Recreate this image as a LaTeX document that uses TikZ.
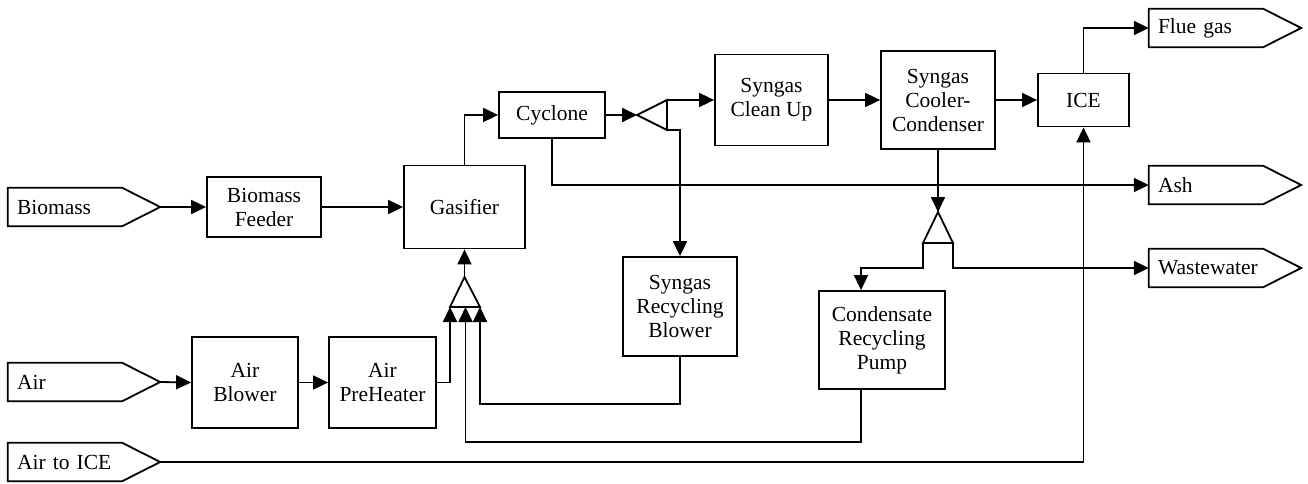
\documentclass[tikz,border=0pt]{standalone}
\usepackage{fontspec}
\setmainfont{Liberation Serif}
\usetikzlibrary{arrows.meta,calc}

\tikzset{
  blk/.style={draw, line width=1.8pt, align=center, inner sep=2pt},
  stream/.style={inner xsep=9pt, inner ysep=0pt, text width=96pt, minimum height=38pt, align=left},
  flow/.style={line width=1.8pt, -{Triangle[length=15pt,width=14pt]}},
  pipe/.style={line width=1.8pt}
}

\begin{document}
\begin{tikzpicture}[x=1pt,y=1pt,yscale=-1,xscale=1,font=\fontsize{21.5}{24}\selectfont]
\useasboundingbox (0,0) rectangle (1308,484);

%Streams in and out
\node [stream] (bio) at (65,207) {Biomass};
\node [stream] (air) at (65,382) {Air};
\node [stream] (aice) at (65,462) {Air to ICE};
\node [stream] (flue) at (1206,28) {Flue gas};
\node [stream] (ash) at (1206,185) {Ash};
\node [stream] (ww) at (1206,268) {Wastewater};
\foreach \s in {bio,air,aice,flue,ash,ww}
  \draw [pipe] (\s.north west) -- (\s.north east) -- ($(\s.east)+(38,0)$) coordinate (\s-tip) -- (\s.south east) -- (\s.south west) -- cycle ;

%Units
\node [blk, minimum width=114pt, minimum height=60pt] (feed) at (264,207) {Biomass\\Feeder};
\node [blk, minimum width=121pt, minimum height=83pt] (gas) at (464.5,207) {Gasifier};
\node [blk, minimum width=106pt, minimum height=46pt] (cyc) at (552,115) {Cyclone};
\node [blk, minimum width=113pt, minimum height=91pt] (clean) at (771.5,100) {Syngas\\Clean Up};
\node [blk, minimum width=114pt, minimum height=98pt] (cool) at (938,100) {Syngas\\Cooler-\\Condenser};
\node [blk, minimum width=91pt, minimum height=53pt] (ice) at (1083.5,100) {ICE};
\node [blk, minimum width=114pt, minimum height=99pt] (srb) at (680,306.5) {Syngas\\Recycling\\Blower};
\node [blk, minimum width=126pt, minimum height=98pt] (cond) at (882,340) {Condensate\\Recycling\\Pump};
\node [blk, minimum width=106pt, minimum height=91pt] (blow) at (245,382.5) {Air\\Blower};
\node [blk, minimum width=107pt, minimum height=91pt] (heat) at (382.5,382.5) {Air\\PreHeater};

%Mixer below gasifier
\coordinate (mixA) at (464.5,277);
\coordinate (mixL) at (450,307);
\coordinate (mixM) at (465.5,307);
\coordinate (mixR) at (480,307);
\draw [pipe] (mixA) -- (mixL) -- (mixR) -- cycle ;
%Splitter after cyclone
\coordinate (splA) at (637,115);
\coordinate (splT) at (667,100);
\coordinate (splB) at (667,130);
\draw [pipe] (splA) -- (splT) -- (splB) -- cycle ;
%Splitter below condenser
\coordinate (sp2A) at (938,212);
\coordinate (sp2L) at (923,243);
\coordinate (sp2R) at (953,243);
\draw [pipe] (sp2A) -- (sp2L) -- (sp2R) -- cycle ;

%Connections
\draw [flow] (bio-tip) -- (feed.west);
\draw [flow] (feed.east) -- (gas.west);
\draw [flow] (gas.north) |- (cyc.west);
\draw [flow] (cyc.east) -- (splA);
\draw [flow] (splT) -- (clean.west);
\draw [flow] (splB) -| (srb.north);
\draw [flow] (cyc.south) |- (ash.west);
\draw [flow] (clean.east) -- (cool.west);
\draw [flow] (cool.east) -- (ice.west);
\draw [flow] (ice.north) |- (flue.west);
\draw [flow] (cool.south) -- (sp2A);
\draw [flow] (sp2L) -- ++(0,25) -| ($(cond.north)+(-21,0)$);
\draw [flow] (sp2R) |- (ww.west);
\draw [flow] (air-tip) -- (blow.west);
\draw [flow] (blow.east) -- (heat.west);
\draw [flow] (heat.east) -| (mixL);
\draw [flow] (srb.south) -- ++(0,47) -| (mixR);
\draw [flow] ($(cond.south)+(-21,0)$) -- ++(0,52) -| (mixM);
\draw [flow] (mixA) -- (gas.south);
\draw [flow] (aice-tip) -| (ice.south);

\end{tikzpicture}
\end{document}
